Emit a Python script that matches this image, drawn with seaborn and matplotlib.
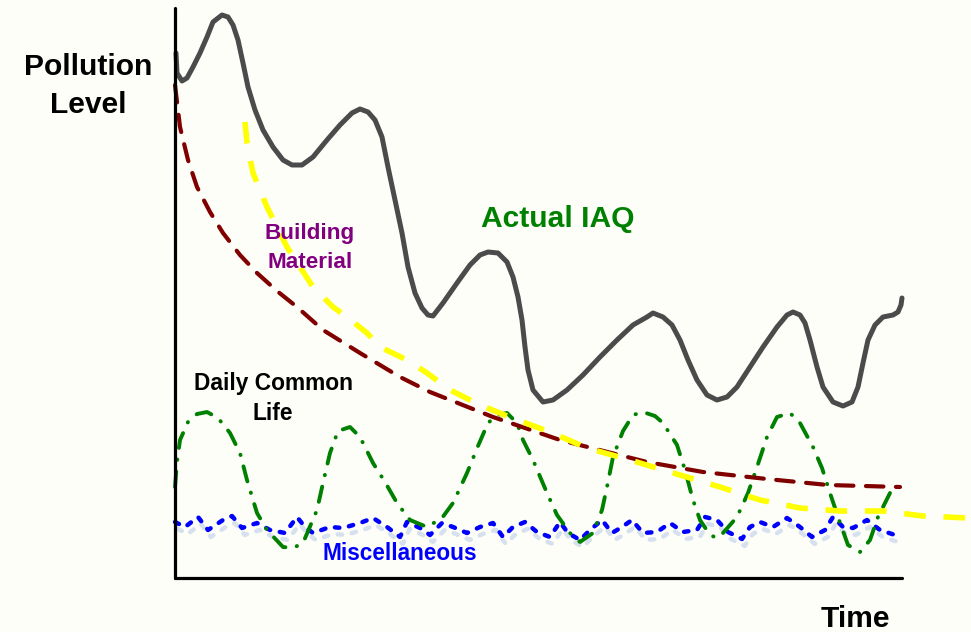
import matplotlib
matplotlib.use("Agg")
import matplotlib.pyplot as plt
import matplotlib.patheffects as pe
import seaborn as sns
import pandas as pd

# ---------------- data (arbitrary time / level units) ----
actual_t = [1, 2, 7, 12, 18, 25, 32, 38, 47, 53, 58, 63, 68, 73, 80, 88, 98, 108, 117,
            127, 138, 152, 165, 177, 185, 193, 200, 207, 213, 220, 227, 233, 240, 247,
            253, 258, 268, 282, 295, 305, 313, 323, 332, 338, 343, 347, 350, 353, 358,
            368, 378, 392, 408, 425, 442, 458, 472, 478, 488, 497, 505, 513, 522, 532,
            542, 552, 562, 575, 588, 602, 612, 618, 625, 630, 635, 642, 648, 658, 668,
            677, 683, 688, 693, 700, 708, 718, 723, 726, 727]
actual_v = [525, 505, 497, 500, 511, 525, 541, 556, 563, 561, 553, 538, 515, 491, 468,
            448, 431, 418, 413, 413, 421, 438, 453, 465, 469, 466, 458, 441, 411, 378,
            345, 311, 285, 270, 263, 262, 275, 295, 313, 323, 326, 325, 316, 301, 281,
            258, 231, 208, 188, 176, 178, 188, 203, 221, 238, 253, 261, 265, 261, 253,
            238, 218, 198, 183, 178, 181, 191, 211, 231, 251, 263, 266, 263, 255, 238,
            211, 191, 176, 172, 176, 191, 215, 238, 253, 261, 263, 266, 273, 280]

building_t = [0, 5, 13, 22, 35, 48, 65, 82, 102, 122, 148, 185, 225, 255, 318, 385,
              472, 528, 592, 653, 725]
building_v = [493, 451, 418, 391, 366, 345, 323, 305, 287, 271, 248, 225, 201, 186,
              161, 138, 116, 106, 99, 93, 91]

other_t = [70, 72, 78, 85, 92, 100, 112, 125, 138, 158, 172, 192, 205, 232, 252, 275,
           305, 337, 375, 412, 455, 495, 545, 585, 625, 665, 708, 748, 793]
other_v = [456, 435, 405, 388, 371, 355, 331, 311, 291, 271, 261, 245, 231, 218, 205,
           188, 173, 160, 146, 130, 118, 106, 91, 78, 70, 67, 67, 62, 60]

daily_t = [0, 2, 5, 13, 22, 32, 43, 55, 65, 72, 82, 92, 108, 118, 128, 142, 148, 155,
           163, 175, 185, 198, 210, 222, 235, 252, 267, 278, 292, 303, 313, 322, 332,
           342, 348, 358, 372, 382, 395, 405, 418, 427, 432, 438, 448, 458, 468, 480,
           488, 502, 510, 518, 525, 535, 542, 548, 562, 573, 582, 592, 602, 615, 625,
           638, 647, 655, 663, 673, 685, 695, 703, 708, 715]
daily_v = [91, 116, 138, 156, 164, 166, 160, 145, 125, 98, 65, 48, 31, 30, 35, 68, 95,
           125, 147, 151, 141, 115, 96, 75, 58, 51, 60, 75, 105, 132, 155, 163, 165,
           155, 138, 118, 85, 63, 45, 36, 45, 68, 91, 121, 147, 163, 166, 162, 155, 133,
           108, 78, 58, 43, 40, 45, 61, 85, 111, 141, 161, 165, 155, 131, 110, 85, 61,
           33, 26, 38, 61, 71, 85]

misc_t = [0, 10, 23, 33, 48, 57, 67, 82, 95, 110, 122, 130, 138, 155, 168, 185, 198,
          212, 225, 232, 245, 255, 267, 278, 292, 305, 318, 328, 338, 350, 362, 375,
          385, 393, 405, 415, 427, 437, 447, 457, 468, 482, 495, 508, 522, 530, 542,
          553, 567, 575, 585, 598, 612, 625, 637, 650, 658, 668, 678, 692, 705, 720, 727]
misc_v = [56, 51, 61, 48, 58, 62, 50, 55, 48, 45, 61, 51, 45, 51, 50, 55, 60, 51, 41,
          56, 50, 43, 55, 51, 45, 51, 55, 41, 51, 56, 46, 41, 56, 45, 38, 48, 58, 45,
          51, 58, 45, 46, 55, 46, 48, 61, 58, 46, 39, 51, 56, 51, 60, 51, 41, 48, 61,
          51, 50, 58, 48, 43, 41]

labels = {
    "y": ["Pollution", "Level"],
    "x": "Time",
    "actual": "Actual IAQ",
    "building": ["Building", "Material"],
    "daily": ["Daily Common", "Life"],
    "misc": "Miscellaneous",
}

# ---------------- figure ----------------
W, H = 971, 632
BG = "#fefef8"
sns.set_theme(style="white")
plt.rcParams["font.family"] = ["Liberation Sans", "DejaVu Sans"]

fig = plt.figure(figsize=(W / 100, H / 100), dpi=100, facecolor=BG)
ax = fig.add_axes([175 / W, 54 / H, 727 / W, 570 / H], facecolor=BG)
ax.set_xlim(0, 727)
ax.set_ylim(0, 570)

df_misc = pd.DataFrame({"t": misc_t, "v": misc_v})
df_daily = pd.DataFrame({"t": daily_t, "v": daily_v})
df_build = pd.DataFrame({"t": building_t, "v": building_v})
df_other = pd.DataFrame({"t": other_t, "v": other_v})
df_act = pd.DataFrame({"t": actual_t, "v": actual_v})

# Miscellaneous (blue dotted with pale shadow)
sns.lineplot(data=df_misc, x="t", y="v", sort=False, estimator=None, ax=ax,
             color="#0000ff", linewidth=3.2, clip_on=False)
ln = ax.lines[-1]
ln.set_dashes((1.0, 2.2))
ln.set_dash_capstyle("round")
ln.set_path_effects([pe.SimpleLineShadow(offset=(2, -5), shadow_color="#d6e0ee",
                                         alpha=1.0), pe.Normal()])

# Daily common life (green dash-dot)
sns.lineplot(data=df_daily, x="t", y="v", sort=False, estimator=None, ax=ax,
             color="#008000", linewidth=2.8, clip_on=False)
ln = ax.lines[-1]
ln.set_dashes((4.0, 3.0, 0.1, 3.0))
ln.set_dash_capstyle("round")

# Building material (dark red dashed)
sns.lineplot(data=df_build, x="t", y="v", sort=False, estimator=None, ax=ax,
             color="#800000", linewidth=3.0, clip_on=False)
ln = ax.lines[-1]
ln.set_dashes((4.2, 3.0))
ln.set_dash_capstyle("round")

# yellow dashed
sns.lineplot(data=df_other, x="t", y="v", sort=False, estimator=None, ax=ax,
             color="#ffff00", linewidth=4.0, clip_on=False)
ln = ax.lines[-1]
ln.set_dashes((3.9, 3.2))

# Actual IAQ (gray solid)
sns.lineplot(data=df_act, x="t", y="v", sort=False, estimator=None, ax=ax,
             color="#4b4b4b", linewidth=3.6, clip_on=False)
ax.lines[-1].set_solid_joinstyle("round")
ax.lines[-1].set_solid_capstyle("round")

# axes styling
for s in ["top", "right"]:
    ax.spines[s].set_visible(False)
for s in ["left", "bottom"]:
    ax.spines[s].set_color("black")
    ax.spines[s].set_linewidth(2.3)
    ax.spines[s].set_capstyle("round")
ax.set_xticks([])
ax.set_yticks([])
ax.set_xlabel("")
ax.set_ylabel("")


def ftext(px, py, s, size, color="black"):
    fig.text(px / W, 1 - py / H, s, ha="center", va="baseline", fontsize=size,
             fontweight="bold", color=color)


ftext(88, 75, labels["y"][0], 21.6)
ftext(88, 113, labels["y"][1], 21.6)
ftext(855, 627, labels["x"], 21.6)
ftext(558, 227, labels["actual"], 21.6, "#008000")
ftext(310, 239, labels["building"][0], 16.2, "#800080")
ftext(310, 268, labels["building"][1], 16.2, "#800080")
ftext(273, 390, labels["daily"][0], 16.4)
ftext(273, 420, labels["daily"][1], 16.4)
ftext(400, 560, labels["misc"], 16.3, "#0000ff")

fig.savefig("out.png", dpi=100, facecolor=BG)
